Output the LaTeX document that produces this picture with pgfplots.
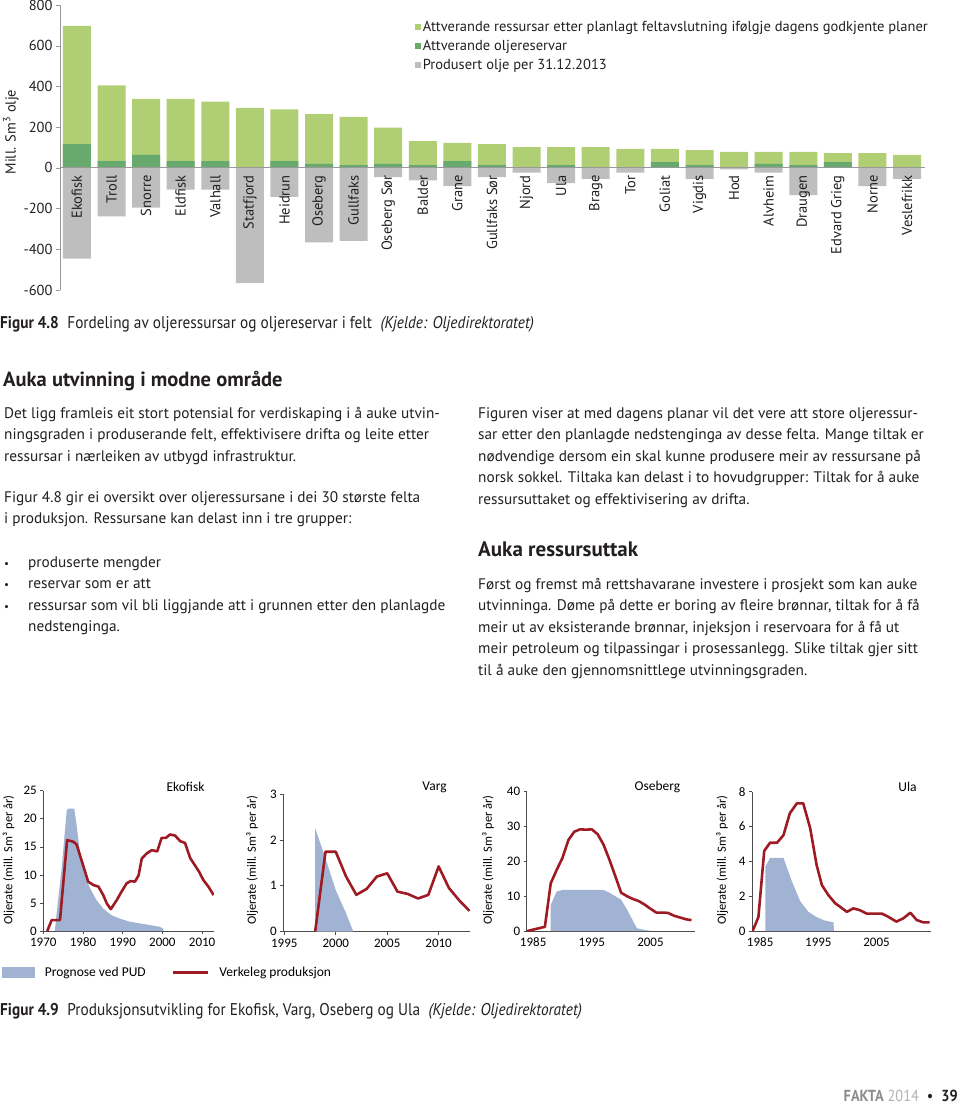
\documentclass[border=0pt]{standalone}
\usepackage{pgfplots}
\pgfplotsset{compat=1.18}
\usepackage{pgfplotstable}
\usepackage{fontspec}
\setmainfont{PT Sans}
\newfontfamily\cond[FakeStretch=0.9]{PT Sans}
\newfontfamily\calib[Numbers=Lining]{Carlito}
\newcommand\fs[1]{\fontsize{#1}{#1}\selectfont}

\definecolor{lgreen}{RGB}{176,206,116}
\definecolor{dgreen}{RGB}{104,170,110}
\definecolor{pgrey}{RGB}{190,190,190}
\definecolor{pudblue}{RGB}{161,179,211}
\definecolor{prodred}{RGB}{158,27,36}
\definecolor{ink}{RGB}{35,31,32}

% felt: total (attverande ressursar + reservar), reservar, produsert
\pgfplotstableread{
x total res prod
0 697 116 -446
1 405 33 -238
2 339 64 -195
3 339 33 -107
4 325 33 -107
5 295 0 -566
6 287 33 -143
7 264 20 -366
8 251 13 -359
9 198 20 -46
10 131 13 -61
11 123 33 -90
12 116 13 -46
13 102 0 -23
14 102 13 -75
15 102 0 -54
16 93 0 -23
17 93 28 0
18 87 13 -54
19 79 0 -8
20 79 20 -23
21 79 13 -134
22 72 28 0
23 72 0 -90
24 64 0 -54
}\felt

\pgfplotsset{
  mini/.style={scale only axis, anchor=south west, axis lines=left,
    axis line style={-, draw=black!70, line width=0.7pt},
    tick style={draw=black!70, line width=0.6pt}, tick align=outside,
    major tick length=3pt, ymin=0,
    /pgf/number format/assume math mode=true,
    /pgf/number format/1000 sep={},
    ticklabel style={font=\calib\fs{13}, text=black},
    xticklabel style={text height=9pt, text depth=0pt}},
  pud/.style={fill=pudblue, draw=none},
  prod/.style={draw=prodred, line width=2.6pt, line join=round},
}

\begin{document}
\begin{tikzpicture}
\path[use as bounding box] (0,0) rectangle (960pt,-1106pt);

% ---------- figur 4.8 ----------
\begin{axis}[at={(60pt,-290pt)}, anchor=south west, scale only axis,
  width=865pt, height=285pt,
  xmin=-0.49, xmax=24.52, ymin=-600, ymax=800,
  axis on top,
  axis x line=middle, axis y line=left,
  axis line style={-, draw=black!40, line width=0.9pt},
  ytick={-600,-400,...,800}, y tick style={draw=black!40},
  tick align=outside, major tick length=4pt,
  /pgf/number format/assume math mode=true,
  xtick={0,...,24}, x tick style={draw=none},
  xticklabels={Ekofisk,Troll,Snorre,Eldfisk,Valhall,Statfjord,Heidrun,Oseberg,Gullfaks,Oseberg Sør,Balder,Grane,Gullfaks Sør,Njord,Ula,Brage,Tor,Goliat,Vigdis,Hod,Alvheim,Draugen,Edvard Grieg,Norne,Veslefrikk},
  x tick label style={rotate=90, anchor=east, font=\fs{14.5}, text=ink},
  y tick label style={font=\fs{14.5}, text=ink},
  legend style={at={(0.407,0.955)}, anchor=north west, draw=none, fill=none,
    font=\fs{14.5}, text=ink, row sep=4pt, legend cell align=left,
    nodes={inner sep=1.5pt}},
  legend image code/.code={\fill[#1] (0pt,-3pt) rectangle (6pt,3pt);},
]
\addplot[ybar, bar width=28pt, bar shift=0pt, fill=lgreen, draw=none] table[x=x, y=total] {\felt};
\addplot[ybar, bar width=28pt, bar shift=0pt, fill=dgreen, draw=none] table[x=x, y=res] {\felt};
\addplot[ybar, bar width=28pt, bar shift=0pt, fill=pgrey, draw=none] table[x=x, y=prod] {\felt};
\legend{Attverande ressursar etter planlagt feltavslutning ifølgje dagens godkjente planer,
  Attverande oljereservar, Produsert olje per 31.12.2013}
\end{axis}
\node[rotate=90, font=\fs{14.5}, text=ink] at (11pt,-132pt) {Mill. Sm\textsuperscript{3} olje};

\node[anchor=base west, inner sep=0pt, font=\cond\fs{17}, text=ink] at (0pt,-328pt)
  {\textbf{Figur 4.8}\enspace Fordeling av oljeressursar og oljereservar i felt\enspace \textit{(Kjelde: Oljedirektoratet)}};

% ---------- tekst ----------
\node[anchor=base west, inner sep=0pt, font=\bfseries\fs{20.5}, text=ink] at (3pt,-386pt) {Auka utvinning i modne område};

\begin{scope}[every node/.style={anchor=base west, inner sep=0pt, font=\fs{15.3}, text=ink}]
\node at (4pt,-418pt) {Det ligg framleis eit stort potensial for verdiskaping i å auke utvin-};
\node at (4pt,-439.5pt) {ningsgraden i produserande felt, effektivisere drifta og leite etter};
\node at (4pt,-461pt) {ressursar i nærleiken av utbygd infrastruktur.};
\node at (4pt,-502pt) {Figur 4.8 gir ei oversikt over oljeressursane i dei 30 største felta};
\node at (4pt,-523.5pt) {i produksjon. Ressursane kan delast inn i tre grupper:};
\node at (4pt,-567pt) {\fs{11}•}; \node at (28pt,-567pt) {produserte mengder};
\node at (4pt,-588.5pt) {\fs{11}•}; \node at (28pt,-588.5pt) {reservar som er att};
\node at (4pt,-610pt) {\fs{11}•}; \node at (28pt,-610pt) {ressursar som vil bli liggjande att i grunnen etter den planlagde};
\node at (28pt,-631.5pt) {nedstenginga.};

\node at (478pt,-418pt) {Figuren viser at med dagens planar vil det vere att store oljeressur-};
\node at (478pt,-439.5pt) {sar etter den planlagde nedstenginga av desse felta. Mange tiltak er};
\node at (478pt,-461pt) {nødvendige dersom ein skal kunne produsere meir av ressursane på};
\node at (478pt,-482.5pt) {norsk sokkel. Tiltaka kan delast i to hovudgrupper: Tiltak for å auke};
\node at (478pt,-504pt) {ressursuttaket og effektivisering av drifta.};
\node[font=\bfseries\fs{21}] at (478pt,-556pt) {Auka ressursuttak};
\node at (478pt,-589pt) {Først og fremst må rettshavarane investere i prosjekt som kan auke};
\node at (478pt,-610.5pt) {utvinninga. Døme på dette er boring av fleire brønnar, tiltak for å få};
\node at (478pt,-632pt) {meir ut av eksisterande brønnar, injeksjon i reservoara for å få ut};
\node at (478pt,-653.5pt) {meir petroleum og tilpassingar i prosessanlegg. Slike tiltak gjer sitt};
\node at (478pt,-675pt) {til å auke den gjennomsnittlege utvinningsgraden.};
\end{scope}

% ---------- figur 4.9 ----------
\begin{axis}[mini, at={(43.3pt,-931pt)}, width=170.7pt, height=140.3pt,
  xmin=1970, xmax=2013, ymax=25, xtick={1970,1980,...,2010}, ytick={0,5,...,25},
  legend style={at={(-0.262,-0.295)}, anchor=west, draw=none, fill=none,
    font=\calib\fs{13.5}, text=black, legend columns=2,
    /tikz/every odd column/.append style={column sep=8pt},
    /tikz/every even column/.append style={column sep=24pt}},
]
\addplot[pud, legend image code/.code={\fill[pudblue] (0pt,-5.5pt) rectangle (33pt,5.5pt);}] coordinates {
(1972.9,0) (1973.4,3.4) (1974.6,11) (1975.9,21.5) (1976.3,21.8) (1977.8,21.8)
(1978.4,18.8) (1979.2,14.1) (1980.5,9.9) (1981.8,7.6) (1983.4,5.5) (1985.1,4.0)
(1987.2,2.8) (1989.3,2.2) (1991.8,1.65) (1994.4,1.35) (1996.9,1.05) (1999.4,0.75)
(2000.1,0.45) (2000.4,0)} \closedcycle;
\addplot[prod, legend image code/.code={\draw[prodred, line width=2.6pt] (0pt,0pt) -- (35pt,0pt);}] coordinates {
(1971.0,0) (1972.1,1.95) (1973.2,1.95) (1974.2,1.95) (1976.0,16.2) (1977.6,15.9)
(1978.4,15.4) (1979.9,12) (1981.3,8.8) (1982.6,8.2) (1983.9,7.9) (1985.1,6.4)
(1986.0,4.9) (1987.0,3.9) (1988.5,5.5) (1989.7,7.0) (1991.0,8.5) (1992.0,8.9)
(1993.1,8.8) (1994.0,9.9) (1994.8,12.9) (1996.0,13.8) (1997.3,14.4) (1998.7,14.2)
(1999.8,16.6) (2000.9,16.6) (2001.9,17.2) (2003.2,17.0) (2004.5,16.0) (2005.7,15.7)
(2007.0,13.0) (2008.2,11.7) (2009.3,10.5) (2010.3,9.1) (2011.6,7.9) (2012.9,6.4)};
\legend{Prognose ved PUD, Verkeleg produksjon}
\end{axis}

\begin{axis}[mini, at={(283.3pt,-931.5pt)}, width=186.7pt, height=137.5pt,
  xmin=1994.9, xmax=2013.05, ymax=3, xtick={1995,2000,...,2010}, ytick={0,1,2,3}]
\addplot[pud] coordinates {(1998,0) (1998,2.25) (1999,1.6) (2000,0.9) (2001,0.4) (2001.7,0)} \closedcycle;
\addplot[prod] coordinates {(1998,0) (1999,1.74) (2000,1.74) (2001,1.2) (2002,0.8)
(2003,0.93) (2004,1.2) (2005,1.27) (2006,0.87) (2007,0.82) (2008,0.72) (2009,0.8)
(2010,1.42) (2011,0.95) (2012,0.68) (2013,0.45)};
\end{axis}

\begin{axis}[mini, at={(526.7pt,-931pt)}, width=168.3pt, height=139.3pt,
  xmin=1983.9, xmax=2012.6, ymax=40, xtick={1985,1995,2005}, ytick={0,10,...,40},
  x tick style={draw=none}, extra x ticks={1989,1999,2009}, extra x tick labels={},
  extra x tick style={tick style={draw=black!70}}]
\addplot[pud] coordinates {(1988,0) (1988,7.5) (1989,11.3) (1990,11.8) (1997,11.8)
(1998,11.0) (1999,10.0) (2000,9.0) (2001,6.2) (2002,3.0) (2002.7,0.8) (2004,0.3) (2005.2,0)} \closedcycle;
\addplot[prod] coordinates {(1984,0) (1985,0.4) (1986,0.8) (1987,1.2) (1988,13.7)
(1989,17.5) (1990,21) (1991,26.1) (1992,28.5) (1993,29.2) (1994,29.1) (1995,29.2)
(1996,27.8) (1997,24.8) (1998,20.5) (1999,15.8) (2000,11.0) (2001,10.0) (2002,9.2)
(2003,8.6) (2004,7.6) (2005,6.4) (2006,5.3) (2007,5.3) (2008,5.2) (2009,4.4)
(2010,3.9) (2011,3.4) (2012,3.1)};
\end{axis}

\begin{axis}[mini, at={(752pt,-931pt)}, width=178.7pt, height=139.3pt,
  xmin=1983.6, xmax=2014.3, ymax=8, xtick={1985,1995,2005}, ytick={0,2,...,8},
  x tick style={draw=none}, extra x ticks={1989,1994.4,1999.9,2005.3,2010.7}, extra x tick labels={},
  extra x tick style={tick style={draw=black!70}}]
\addplot[pud] coordinates {(1985.9,0) (1985.9,3.7) (1986.7,4.2) (1989.0,4.2) (1990.4,2.9)
(1991.9,1.7) (1993.3,1.1) (1994.7,0.8) (1996.1,0.6) (1997.6,0.5) (1997.7,0)} \closedcycle;
\addplot[prod] coordinates {(1983.7,0) (1984.7,0.8) (1985.7,4.6) (1986.7,5.07) (1987.9,5.07)
(1989.0,5.5) (1990.1,6.76) (1991.3,7.33) (1992.4,7.33) (1993.6,5.9) (1994.7,3.79)
(1995.6,2.64) (1996.7,2.07) (1997.9,1.59) (1998.7,1.4) (1999.9,1.1) (2001.0,1.3)
(2002.1,1.2) (2003.3,1.0) (2004.7,1.0) (2005.9,1.0) (2007.0,0.82) (2008.4,0.54)
(2009.6,0.73) (2010.8,1.05) (2011.9,0.63) (2013.0,0.5) (2014.1,0.5)};
\end{axis}

\begin{scope}[every node/.style={font=\calib\fs{12.5}, text=black}]
\node[rotate=90] at (8.5pt,-860pt) {Oljerate (mill. Sm³ per år)};
\node[rotate=90] at (252pt,-860pt) {Oljerate (mill. Sm³ per år)};
\node[rotate=90] at (488pt,-860pt) {Oljerate (mill. Sm³ per år)};
\node[rotate=90] at (722pt,-860pt) {Oljerate (mill. Sm³ per år)};
\end{scope}
\begin{scope}[every node/.style={font=\calib\fs{13.5}, text=black}]
\node at (185.5pt,-787pt) {Ekofisk};
\node at (434.5pt,-787pt) {Varg};
\node at (657.5pt,-787pt) {Oseberg};
\node at (907.5pt,-787pt) {Ula};
\end{scope}

\node[anchor=base west, inner sep=0pt, font=\cond\fs{17}, text=ink] at (0pt,-1015pt)
  {\textbf{Figur 4.9}\enspace Produksjonsutvikling for Ekofisk, Varg, Oseberg og Ula\enspace \textit{(Kjelde: Oljedirektoratet)}};

\node[anchor=base east, inner sep=0pt, font=\cond\fs{16}] at (958pt,-1101pt)
  {{\bfseries\color{black!45}FAKTA} {\color{black!30}2014}\enspace{\color{ink}•}\enspace{\bfseries\color{ink}39}};
\end{tikzpicture}
\end{document}
